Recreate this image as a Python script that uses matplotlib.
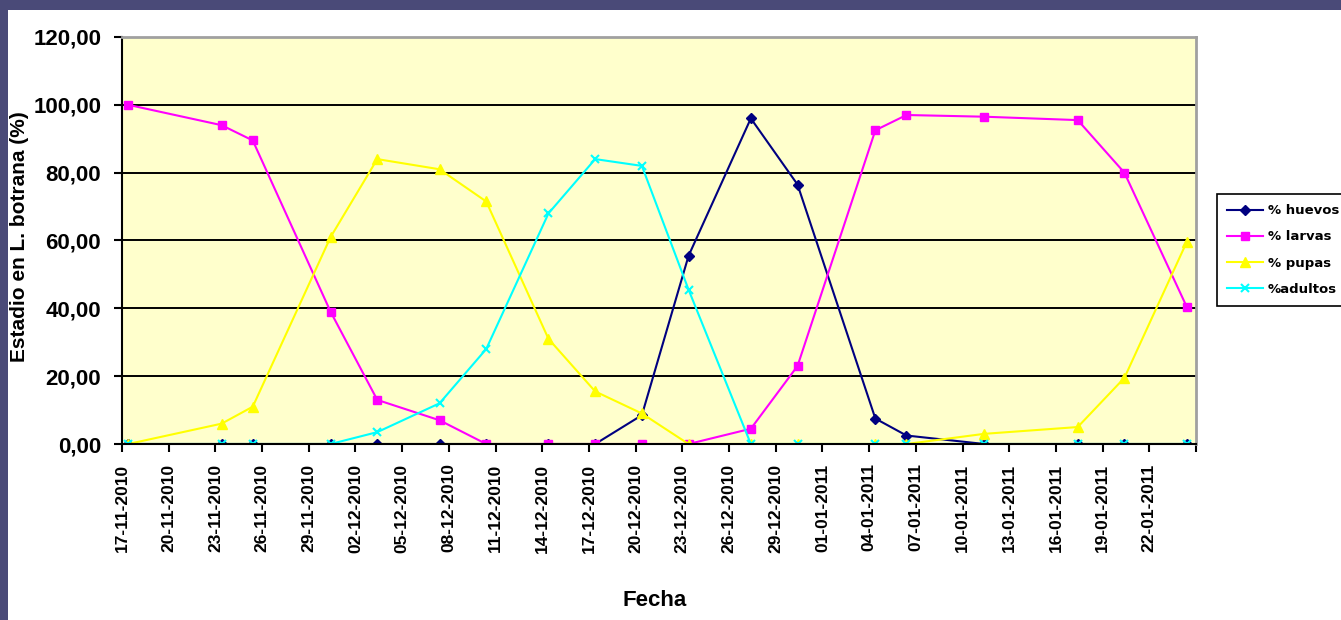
import matplotlib
matplotlib.use('Agg')
import matplotlib.pyplot as plt
import matplotlib.dates as mdates
import pandas as pd
from matplotlib.patches import Rectangle

plt.rcParams['font.family'] = ['Liberation Sans', 'DejaVu Sans']

# fechas de muestreo y porcentajes por estadio
fechas = ['17-11-2010', '23-11-2010', '25-11-2010', '30-11-2010', '03-12-2010',
          '07-12-2010', '10-12-2010', '14-12-2010', '17-12-2010', '20-12-2010',
          '23-12-2010', '27-12-2010', '30-12-2010', '04-01-2011', '06-01-2011',
          '11-01-2011', '17-01-2011', '20-01-2011', '24-01-2011']
huevos = [0, 0, 0, 0, 0, 0, 0, 0, 0, 8.5, 55.5, 96, 76.5, 7.5, 2.5, 0, 0, 0, 0]
larvas = [100, 94, 89.5, 39, 13, 7, 0, 0, 0, 0, 0, 4.5, 23, 92.5, 97, 96.5, 95.5, 80, 40.5]
pupas = [0, 6, 11, 61, 84, 81, 71.5, 31, 15.5, 9, 0, 0, 0, 0, 0, 3, 5, 19.5, 59.5]
adultos = [0, 0, 0, 0, 3.5, 12, 28, 68, 84, 82, 45.5, 0, 0, 0, 0, 0, 0, 0, 0]

ticks_fecha = pd.date_range('2010-11-17', '2011-01-25', freq='3D')
desfase = 0.4  # los puntos caen un poco a la derecha de las marcas

x = mdates.date2num(pd.to_datetime(fechas, format='%d-%m-%Y'))
xt = mdates.date2num(ticks_fecha) - desfase

fig = plt.figure(figsize=(13.41, 6.2), dpi=100, facecolor='#4a4a78')
fig.patches.append(Rectangle((8 / 1341, 0), 1, 1 - 10 / 620, transform=fig.transFigure,
                             facecolor='white', edgecolor='none', zorder=-10))

ax = fig.add_axes([122 / 1341, 176 / 620, 1074 / 1341, 407 / 620])
ax.set_zorder(1)
ax.set_facecolor('#FFFFCC')

ax.plot(x, huevos, color='#000080', marker='D', markersize=5, lw=1.5, label='% huevos')
ax.plot(x, larvas, color='#FF00FF', marker='s', markersize=6, lw=1.5, label='% larvas')
ax.plot(x, pupas, color='#FFFF00', marker='^', markersize=7, lw=1.5, label='% pupas')
ax.plot(x, adultos, color='#00FFFF', marker='x', markersize=6, mew=1.5, lw=1.5, label='%adultos')

ax.set_ylim(0, 120)
ax.set_yticks(range(0, 121, 20))
ax.set_yticklabels(['%d,00' % v for v in range(0, 121, 20)], fontsize=16, fontweight='bold')
ax.yaxis.grid(True, color='black', lw=1.4)
ax.set_axisbelow(True)

ax.set_xlim(xt[0], xt[-1])
ax.set_xticks(xt)
labels = [d.strftime('%d-%m-%Y') for d in ticks_fecha]
labels[-1] = ''
ax.set_xticklabels(labels, rotation=90, fontsize=12.5, fontweight='bold')

ax.tick_params(axis='both', direction='out', length=6, width=1.5, color='black')
ax.tick_params(axis='x', pad=8)
ax.tick_params(axis='y', pad=9)

for s in ['left', 'bottom']:
    ax.spines[s].set_color('black')
    ax.spines[s].set_linewidth(1.5)
for s in ['top', 'right']:
    ax.spines[s].set_color('#a0a0a0')
    ax.spines[s].set_linewidth(2)

fig.text(20 / 1341, 1 - 237 / 620, 'Estadio en L. botrana (%)', rotation=90,
         ha='center', va='center', fontsize=15, fontweight='bold')
fig.text(655 / 1341, 20 / 620, 'Fecha', ha='center', va='center',
         fontsize=16, fontweight='bold')

leg = fig.legend(loc='upper left', bbox_to_anchor=(1210 / 1341, 1 - 187 / 620),
                 prop={'family': 'DejaVu Sans', 'weight': 'bold', 'size': 9.5},
                 frameon=True, fancybox=False, edgecolor='black', framealpha=1,
                 handlelength=2.7, labelspacing=1.0, borderpad=0.8, handletextpad=0.4)
leg.get_frame().set_linewidth(1.2)

fig.savefig('out.png', dpi=100, facecolor=fig.get_facecolor())
